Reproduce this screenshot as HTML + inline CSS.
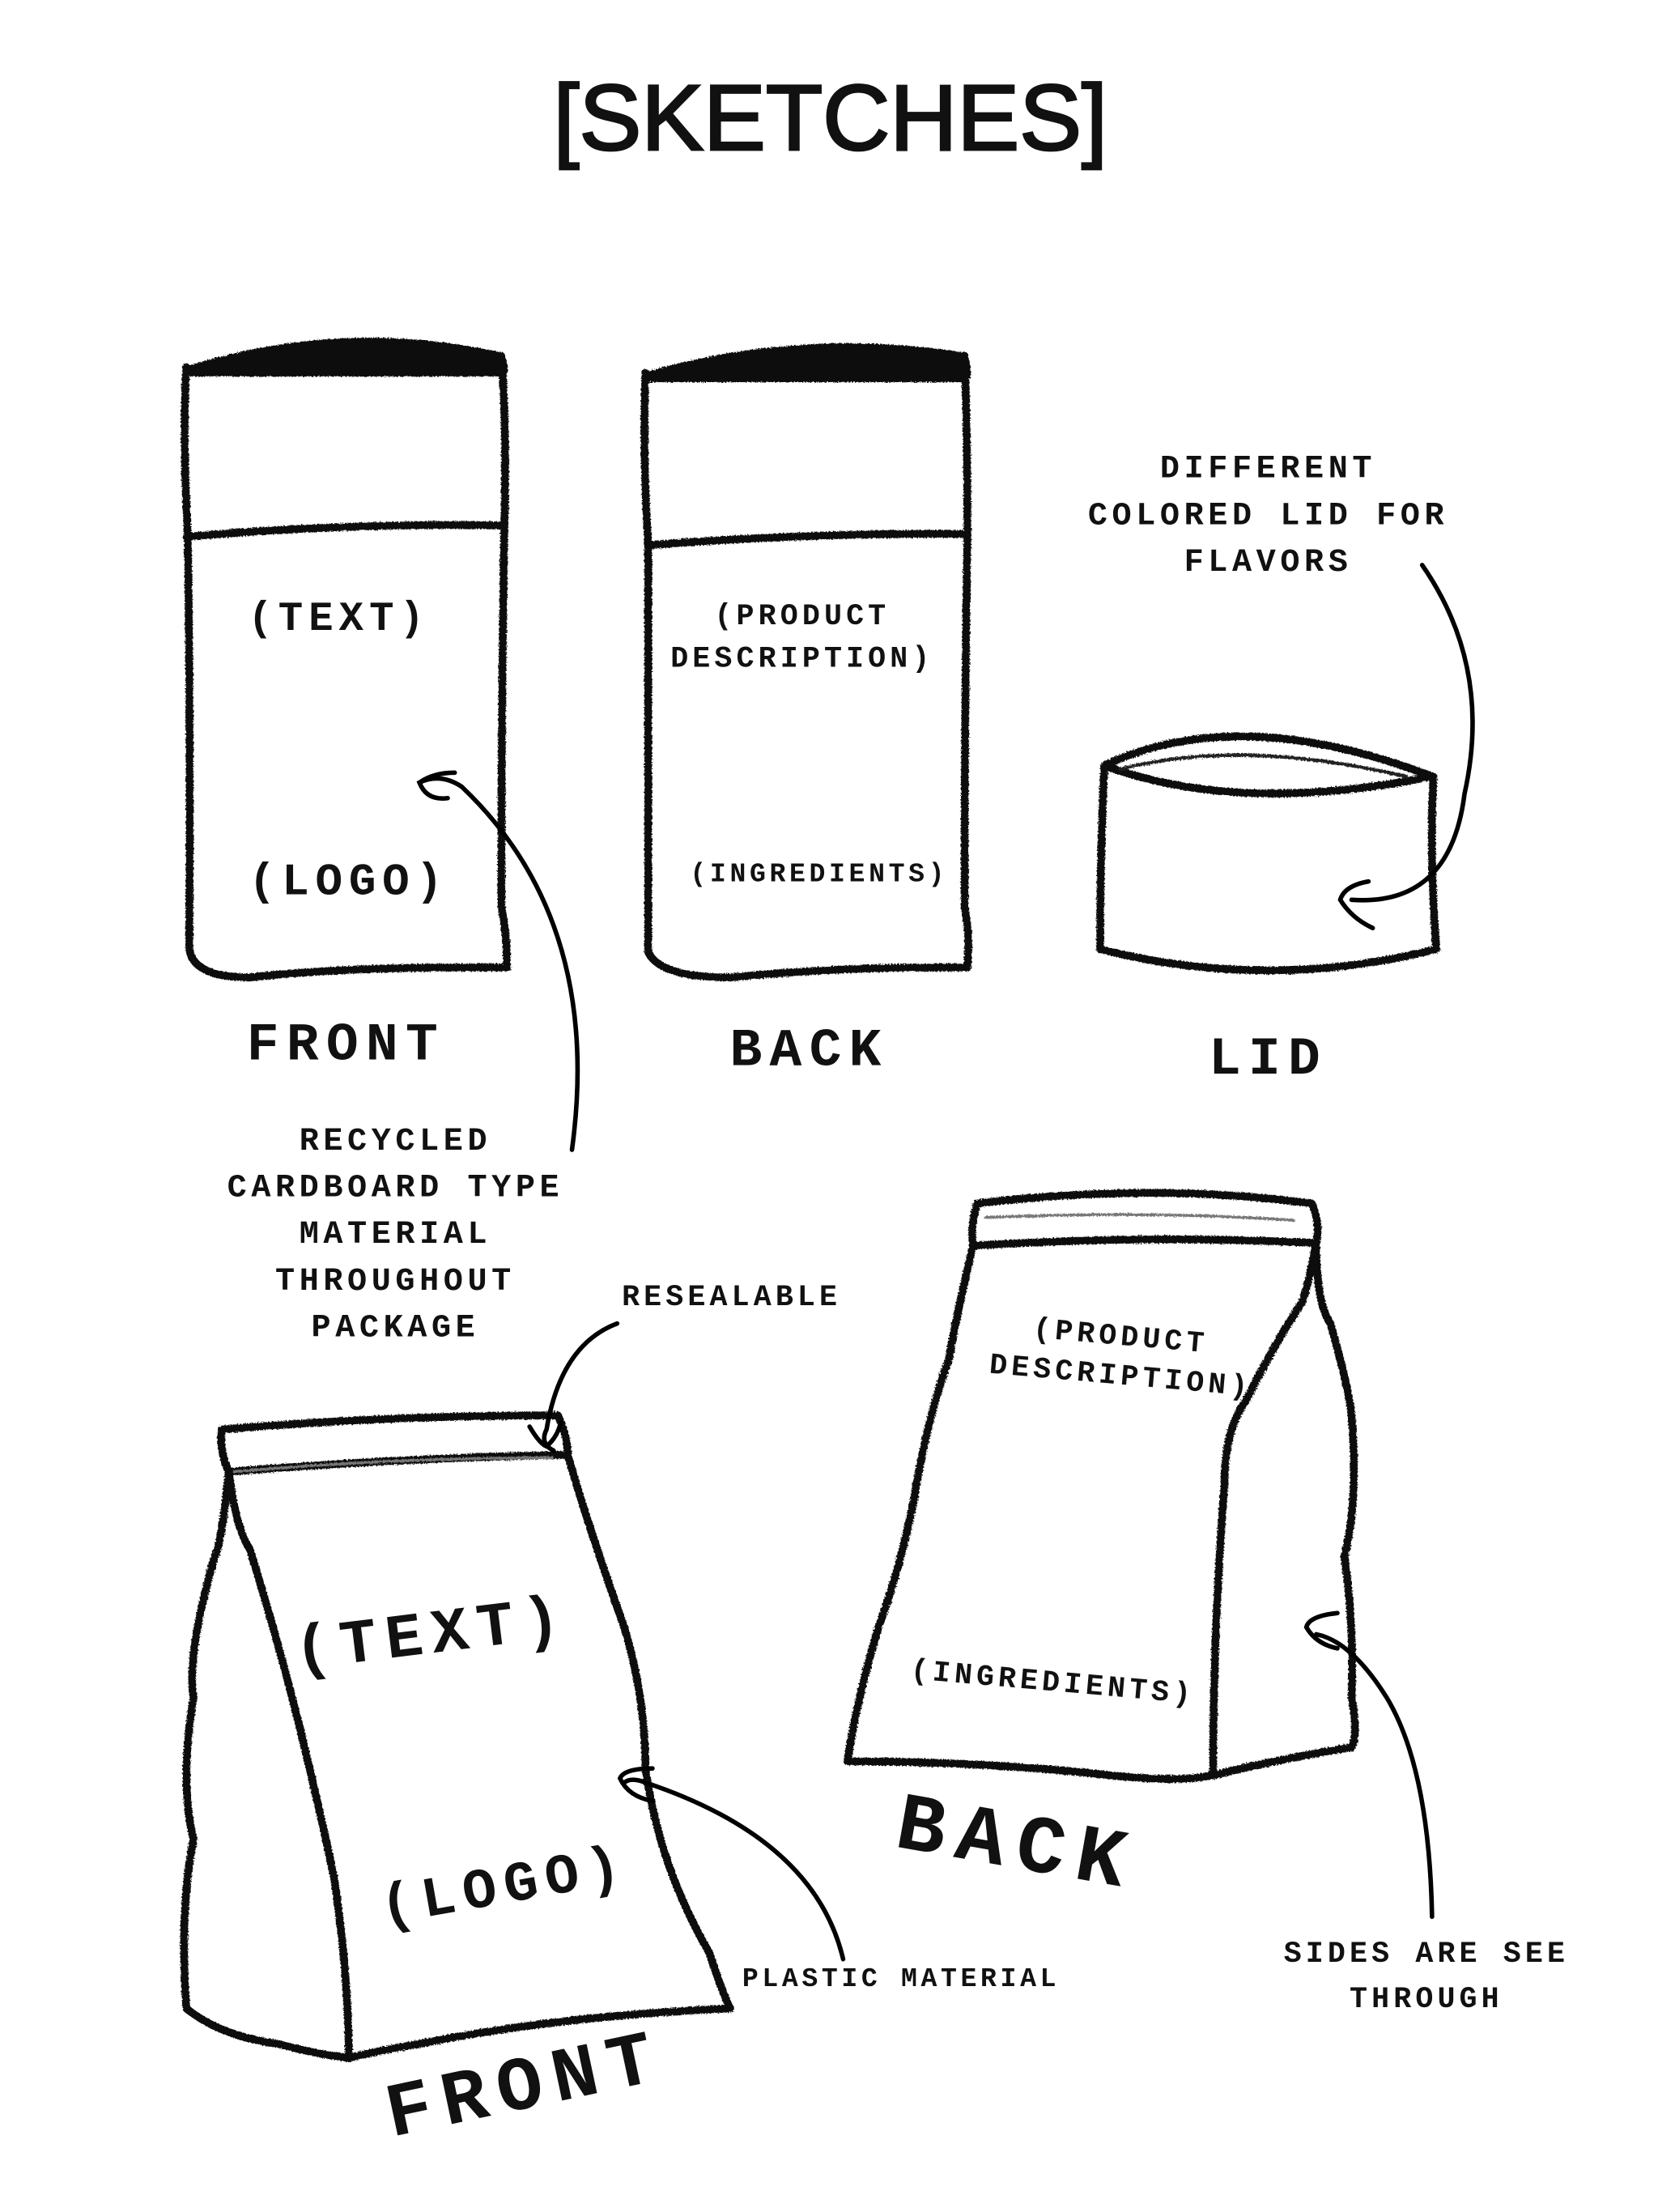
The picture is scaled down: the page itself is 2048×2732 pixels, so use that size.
<!DOCTYPE html>
<html><head><meta charset="utf-8">
<style>
html,body{margin:0;padding:0;background:#fff;}
svg{display:block;}
.m{font-family:"Liberation Mono",monospace;font-weight:bold;fill:#111;letter-spacing:0.14em;}
.s{fill:none;stroke:#111;stroke-width:5.5;stroke-linejoin:round;stroke-linecap:round;}
.a{fill:none;stroke:#000;stroke-width:3.2;stroke-linecap:round;}
.g{fill:none;stroke:#777;stroke-width:2;}
</style></head>
<body>
<svg width="2048" height="2732" viewBox="3 -2 1174 1566" xmlns="http://www.w3.org/2000/svg">
<defs>
<filter id="r" x="-5%" y="-5%" width="110%" height="110%">
<feTurbulence type="fractalNoise" baseFrequency="0.9" numOctaves="2" seed="3"/>
<feDisplacementMap in="SourceGraphic" scale="2.5"/>
</filter>
</defs>
<rect x="-20" y="-20" width="1250" height="1620" fill="#fff"/>
<text x="591" y="104" text-anchor="middle" font-family="Liberation Sans, sans-serif" font-size="66" fill="#111" stroke="#111" stroke-width="1.6">[SKETCHES]</text>

<g filter="url(#r)">
<path d="M135,260 Q245,225 358,250 Q362,262 358,262 Q245,262 135,262 Z" fill="#111" stroke="#111" stroke-width="5"/>
<path class="s" d="M135,258 Q132,300 136,378 Q138,520 137,670 Q140,690 180,690 Q250,682 362,683 Q362,660 358,640 Q358,500 360,378 Q362,300 358,250"/>
<path class="s" d="M135,378 Q250,368 360,370"/>
<path d="M460,264 Q570,232 686,250 Q690,265 686,266 Q570,266 460,266 Z" fill="#111" stroke="#111" stroke-width="5"/>
<path class="s" d="M460,262 Q458,320 462,384 Q462,520 462,672 Q470,690 520,690 Q600,682 688,683 Q690,660 686,640 Q686,500 688,378 Q688,300 686,250"/>
<path class="s" d="M462,384 Q575,375 688,376"/>
<path class="s" d="M785,540 Q880,495 1018,548 Q1015,600 1020,670 Q900,700 782,670 Q782,600 785,540 Z"/>
<path class="s" d="M785,540 Q880,575 1015,548" stroke-width="4"/>
<path d="M795,543 Q880,520 1000,548" fill="none" stroke="#222" stroke-width="2.5"/>
<path class="s" d="M160,1010 Q280,1000 398,1000 Q405,1015 405,1028 Q290,1030 165,1040 Q158,1025 160,1010 Z"/>
<path class="g" d="M168,1040 Q280,1030 395,1030"/>
<path class="s" d="M405,1028 Q420,1080 445,1150 Q460,1200 460,1250 Q470,1320 505,1380 Q515,1410 520,1420 Q400,1425 300,1445 Q270,1450 250,1455"/>
<path class="s" d="M165,1040 Q170,1080 180,1095 Q200,1160 215,1220 Q232,1290 240,1330 Q250,1400 250,1455"/>
<path class="s" d="M165,1040 Q160,1090 155,1100 Q135,1170 140,1200 Q130,1260 140,1300 Q130,1350 135,1420 Q160,1440 200,1445 Q225,1452 250,1455"/>
<path class="s" d="M695,850 Q820,835 932,850 Q938,865 935,878 Q815,872 692,880 Q690,865 695,850 Z"/>
<path class="g" d="M700,860 Q820,855 920,862"/>
<path class="s" d="M692,880 Q680,930 675,960 Q660,1000 650,1060 Q640,1110 625,1150 Q610,1200 603,1245 Q700,1245 790,1255 Q840,1260 860,1255"/>
<path class="s" d="M935,878 Q930,905 925,920 Q905,950 885,990 Q870,1010 870,1050 Q862,1150 862,1255"/>
<path class="s" d="M935,878 Q935,920 945,935 Q958,980 960,1000 Q965,1060 955,1100 Q962,1150 960,1200 Q965,1225 960,1235 Q900,1245 862,1255"/>
</g>

<text class="m" x="243" y="444" text-anchor="middle" font-size="29">(TEXT)</text>
<text class="m" x="250" y="631" text-anchor="middle" font-size="32">(LOGO)</text>
<text class="m" x="248" y="748" text-anchor="middle" font-size="38">FRONT</text>
<text class="m" x="571" y="440" text-anchor="middle" font-size="21">(PRODUCT</text>
<text class="m" x="571" y="470" text-anchor="middle" font-size="21">DESCRIPTION)</text>
<text class="m" x="583" y="622" text-anchor="middle" font-size="19">(INGREDIENTS)</text>
<text class="m" x="576" y="752" text-anchor="middle" font-size="38">BACK</text>
<text class="m" x="901" y="758" text-anchor="middle" font-size="38">LID</text>
<g class="m" font-size="23" text-anchor="middle">
<text x="901" y="336">DIFFERENT</text>
<text x="901" y="369">COLORED LID FOR</text>
<text x="901" y="402">FLAVORS</text>
<text x="283" y="812">RECYCLED</text>
<text x="283" y="845">CARDBOARD TYPE</text>
<text x="283" y="878">MATERIAL</text>
<text x="283" y="911">THROUGHOUT</text>
<text x="283" y="944">PACKAGE</text>
</g>
<text class="m" x="521" y="922" text-anchor="middle" font-size="21">RESEALABLE</text>
<text class="m" x="641" y="1404" text-anchor="middle" font-size="19">PLASTIC MATERIAL</text>
<text class="m" x="1013" y="1387" text-anchor="middle" font-size="21">SIDES ARE SEE</text>
<text class="m" x="1013" y="1419" text-anchor="middle" font-size="21">THROUGH</text>
<text class="m" transform="translate(310,1168) rotate(-7)" text-anchor="middle" font-size="44">(TEXT)</text>
<text class="m" transform="translate(362,1345) rotate(-10)" text-anchor="middle" font-size="40">(LOGO)</text>
<text class="m" transform="translate(378,1490) rotate(-12)" text-anchor="middle" font-size="54">FRONT</text>
<text class="m" transform="translate(796,950) rotate(5)" text-anchor="middle" font-size="21">(PRODUCT</text>
<text class="m" transform="translate(796,978) rotate(5)" text-anchor="middle" font-size="21">DESCRIPTION)</text>
<text class="m" transform="translate(748,1195) rotate(5)" text-anchor="middle" font-size="21">(INGREDIENTS)</text>
<text class="m" transform="translate(720,1320) rotate(10)" text-anchor="middle" font-size="58">BACK</text>

<path class="a" d="M408,812 Q430,650 330,555 Q315,545 300,552 Q305,565 320,563"/>
<path class="a" d="M300,552 Q310,545 325,545"/>
<path class="a" d="M1010,398 Q1060,470 1040,560 Q1030,640 960,635"/>
<path class="a" d="M972,622 Q955,625 952,635 Q960,648 975,655"/>
<path class="a" d="M440,935 Q400,950 390,1010 Q385,1020 395,1025"/>
<path class="a" d="M378,1008 Q385,1020 390,1022 Q398,1015 400,1005"/>
<path class="a" d="M600,1385 Q580,1300 460,1260 Q450,1256 445,1260"/>
<path class="a" d="M465,1250 Q445,1250 442,1257 Q448,1270 465,1273"/>
<path class="a" d="M1017,1355 Q1015,1250 985,1200 Q960,1160 935,1155"/>
<path class="a" d="M950,1140 Q930,1142 928,1150 Q935,1162 950,1165"/>
</svg>
</body></html>
